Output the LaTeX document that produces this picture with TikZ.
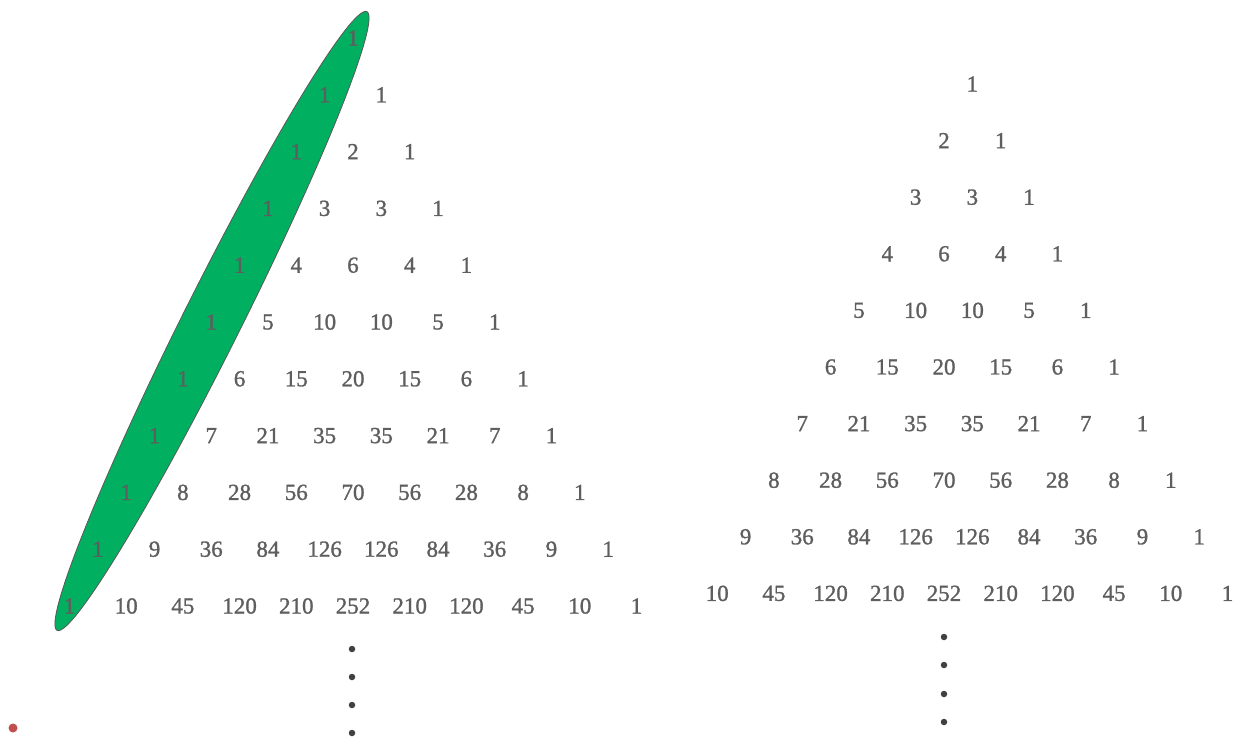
\documentclass[tikz,border=0pt]{standalone}
\usepackage{fontspec}
\setmainfont{Liberation Serif}
\newfontfamily\numfont[FakeBold=1.2]{Liberation Serif}
\definecolor{numgray}{HTML}{5E5E5E}
\definecolor{ellgreen}{HTML}{00B060}
\definecolor{reddot}{HTML}{C0504D}
\begin{document}
\begin{tikzpicture}[x=1pt,y=-1pt,
  num/.style={text=numgray, font=\numfont\fontsize{23}{23}\selectfont, inner sep=0pt},
  dotmark/.style={circle, fill=black!75, inner sep=0pt, minimum size=6.5pt},
  greenell/.style={fill=ellgreen, draw=black!65, line width=0.8pt}]
\useasboundingbox (0,0) rectangle (1237,738);
% green ellipse around the first diagonal
\coordinate (ec) at (212,321);
\draw[greenell, rotate around={63.4:(ec)}] (ec) ellipse [x radius=346pt, y radius=29pt];
% left triangle
\foreach \row [count=\n from 0] in {{1},{1,1},{1,2,1},{1,3,3,1},{1,4,6,4,1},{1,5,10,10,5,1},{1,6,15,20,15,6,1},{1,7,21,35,35,21,7,1},{1,8,28,56,70,56,28,8,1},{1,9,36,84,126,126,84,36,9,1},{1,10,45,120,210,252,210,120,45,10,1}} {
  \foreach \v [count=\k from 0] in \row {
    \node[num] (L-\n-\k) at ({353-28.35*\n+56.7*\k},{38+56.8*\n}) {\v};
  }
}
% right triangle
\foreach \row [count=\n from 1] in {{1},{2,1},{3,3,1},{4,6,4,1},{5,10,10,5,1},{6,15,20,15,6,1},{7,21,35,35,21,7,1},{8,28,56,70,56,28,8,1},{9,36,84,126,126,84,36,9,1},{10,45,120,210,252,210,120,45,10,1}} {
  \foreach \v [count=\k from 1] in \row {
    \node[num] (R-\n-\k) at ({944-28.35*\n+56.7*\k},{84+56.6*(\n-1)}) {\v};
  }
}
% vertical dots
\foreach \y [count=\i] in {649,677,705,733} {
  \node[dotmark] (LD-\i) at (352,\y) {};
}
\foreach \y [count=\i] in {637,665,694,722} {
  \node[dotmark] (RD-\i) at (944,\y) {};
}
% red bullet
\node[circle, fill=reddot, inner sep=0pt, minimum size=9pt] (red) at (13,728) {};
\end{tikzpicture}
\end{document}
